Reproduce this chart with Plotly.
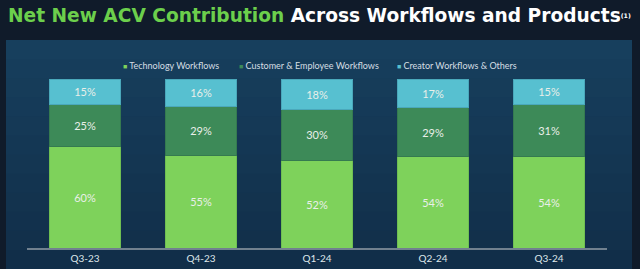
import plotly.graph_objects as go

quarters = ["Q3-23", "Q4-23", "Q1-24", "Q2-24", "Q3-24"]
technology = [60, 55, 52, 54, 54]
customer_employee = [25, 29, 30, 29, 31]
creator_others = [15, 16, 18, 17, 15]

series = [
    ("Technology Workflows", technology, "#7ed25b", "#6fbf52"),
    ("Customer & Employee Workflows", customer_employee, "#3d8a58", "#357a50"),
    ("Creator Workflows & Others", creator_others, "#57c0d0", "#4aa8bb"),
]

PH = 169.0  # plot height in px
PW = 580.0

fig = go.Figure()
for name, vals, color, lc in series:
    fig.add_trace(go.Bar(
        x=quarters, y=vals, name=name,
        marker=dict(color=color, line=dict(color=lc, width=1)),
        texttemplate="%{y}%", textposition="inside", insidetextanchor="middle",
        textfont=dict(family="Lato", size=11, color="#e9efe9"),
        width=0.61, showlegend=False,
    ))

# panel background with a soft vertical gradient (bands)
top_c = (23, 63, 93)
bot_c = (17, 46, 73)
n = 12
y_top = 40
y_bot = 269
for i in range(n):
    t = i / (n - 1)
    c = tuple(round(top_c[k] + (bot_c[k] - top_c[k]) * t) for k in range(3))
    ya = y_top + (y_bot - y_top) * i / n
    yb = y_top + (y_bot - y_top) * (i + 1) / n + 1
    fig.add_shape(type="rect", xref="paper", yref="paper",
                  x0=(6 - 27) / PW, x1=(632 - 27) / PW,
                  y0=(248 - yb) / PH, y1=(248 - ya) / PH,
                  fillcolor="rgb(%d,%d,%d)" % c, line=dict(width=0), layer="below")

# legend drawn as text entries with coloured squares
legend_pos = [121, 237, 395]
for (name, vals, color, lc), xp in zip(series, legend_pos):
    fig.add_annotation(
        xref="paper", yref="paper", x=(xp - 27) / PW, y=(248 - 65) / PH,
        xanchor="left", yanchor="middle", showarrow=False,
        text="<span style='color:%s;font-size:7px'>■</span> %s" % (color, name),
        font=dict(family="Lato", size=9, color="#d5dde3"),
    )

fig.update_layout(
    width=640, height=269,
    margin=dict(l=27, r=33, t=79, b=21),
    paper_bgcolor="#101b2a",
    plot_bgcolor="rgba(0,0,0,0)",
    barmode="stack",
    bargap=0.39,
    showlegend=False,
    title=dict(
        text="<span style='color:#6ccf4c'>Net New ACV Contribution</span> Across Workflows and Products<span style='font-size:9px'><sup>(1)</sup></span>",
        x=8 / 640, xanchor="left", y=1 - 15 / 269, yanchor="middle",
        font=dict(family="DejaVu Sans", size=18.6, color="#ffffff", weight="bold"),
    ),
    xaxis=dict(showgrid=False, showline=True, linecolor="#71818f", linewidth=2,
               tickfont=dict(family="Lato", size=10, color="#dfe6ea"),
               ticks="", range=[-0.5, 4.5], automargin=False),
    yaxis=dict(visible=False, range=[0, 100], automargin=False),
)

fig.write_html("out.html")
